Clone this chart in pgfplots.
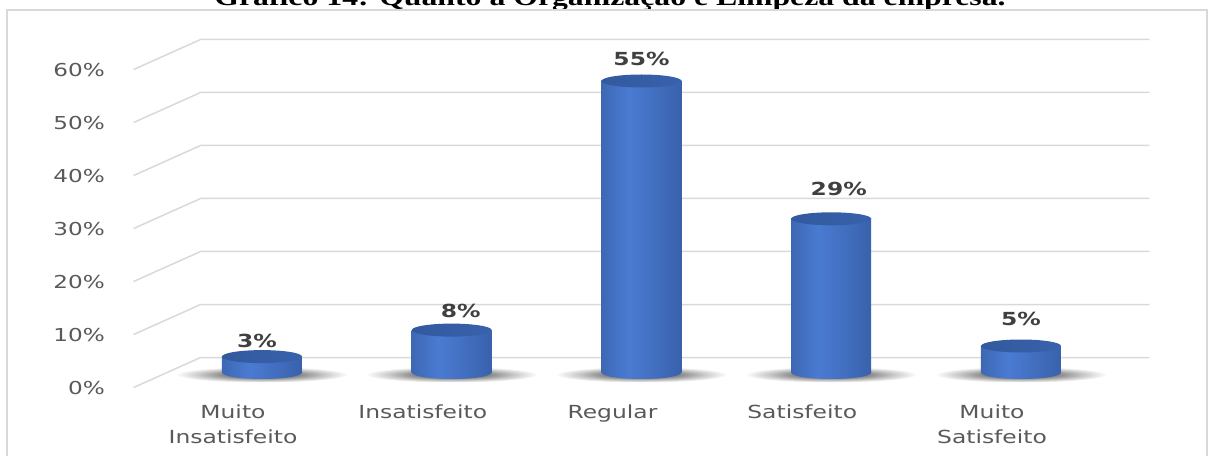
\documentclass[border=0pt]{standalone}
\usepackage{fontspec}
\usepackage{pgfplots}
\usepackage{pgfplotstable}
\pgfplotsset{compat=1.18}
\newfontfamily\chartfont[FakeStretch=1.3]{DejaVu Sans}
\newfontfamily\titlefont[FakeStretch=1.28]{Liberation Serif}
\definecolor{gridc}{HTML}{D9D9D9}
\definecolor{tickc}{HTML}{595959}
\definecolor{valc}{HTML}{404040}
\definecolor{barL}{HTML}{2A4B87}
\definecolor{barM}{HTML}{4A7BD2}
\definecolor{barR}{HTML}{2C4E8E}
\definecolor{topL}{HTML}{2F5597}
\definecolor{topR}{HTML}{3B66B3}

\pgfdeclarehorizontalshading{cylbody}{100bp}{color(0bp)=(barL); color(42bp)=(barM); color(100bp)=(barR)}
\pgfdeclarehorizontalshading{cyltopsh}{100bp}{color(0bp)=(topL); color(100bp)=(topR)}
\pgfdeclareradialshading{shadowsh}{\pgfpointorigin}{color(0bp)=(black!65); color(10bp)=(black!50); color(18bp)=(black!22); color(25bp)=(white); color(50bp)=(white)}

\pgfdeclareplotmark{cyl}{%
 \pgfpathellipse{\pgfpoint{0pt}{-\hpt pt - 2pt}}{\pgfpoint{86pt}{0pt}}{\pgfpoint{0pt}{8pt}}%
 \pgfshadepath{shadowsh}{0}\pgfusepath{discard}%
 \pgfpathellipse{\pgfpoint{0pt}{-\hpt pt}}{\pgfpoint{40pt}{0pt}}{\pgfpoint{0pt}{6.5pt}}%
 \pgfshadepath{cylbody}{0}\pgfusepath{discard}%
 \pgfpathrectangle{\pgfpoint{-40pt}{-\hpt pt}}{\pgfpoint{80pt}{\hpt pt}}%
 \pgfshadepath{cylbody}{0}\pgfusepath{discard}%
 \pgfpathellipse{\pgfpointorigin}{\pgfpoint{40pt}{0pt}}{\pgfpoint{0pt}{6.5pt}}%
 \pgfshadepath{cyltopsh}{0}\pgfusepath{discard}%
}

\pgfplotstableread{
x y dx dy
0 3 -5 16
1 8 9 19
2 55 0 22
3 29 7.5 30
4 5 0 27.5
}\datatable

\begin{document}
\begin{tikzpicture}
\useasboundingbox (0pt,0pt) rectangle (1214pt,455pt);
\clip (0pt,0pt) rectangle (1214pt,455pt);
\node[anchor=base, font={\titlefont\bfseries\fontsize{24.8}{28}\selectfont}] at (610pt,449pt) {Gráfico 14: Quanto à Organização e Limpeza da empresa.};
\draw[gridc, line width=2pt] (6.5pt,-20pt) rectangle (1207pt,444.5pt);
\begin{axis}[
 at={(167.1pt,82.5pt)}, anchor=south west,
 scale only axis, width=948.75pt, height=344.5pt,
 xmin=-0.5, xmax=4.5, ymin=0, ymax=65, enlargelimits=false,
 clip=false,
 axis line style={draw=none},
 major tick length=0pt, tick style={draw=none},
 xtick={0,...,4},
 xticklabels={{Muito\\Insatisfeito},Insatisfeito,Regular,Satisfeito,{Muito\\Satisfeito}},
 xticklabel style={font=\chartfont\fontsize{18}{25}\selectfont, text=tickc, align=center, anchor=north, inner sep=0pt, xshift=-29pt, yshift=-32pt},
 ytick={0,10,...,60},
 yticklabel={\pgfmathprintnumber{\tick}\%},
 /pgf/number format/assume math mode=true,
 /pgf/number format/fixed, /pgf/number format/precision=0,
 yticklabel style={font=\chartfont\fontsize{17.8}{20}\selectfont, text=tickc, anchor=east, inner sep=0pt, xshift=-62pt, yshift=-16pt},
]
\pgfplotsinvokeforeach{0,10,...,60}{
 \draw[gridc, line width=1.5pt] ([shift={(-33.5pt,-15pt)}]axis cs:-0.5,#1) -- ([shift={(33.5pt,15pt)}]axis cs:-0.5,#1) -- ([shift={(33.5pt,15pt)}]axis cs:4.5,#1);
}
\addplot[only marks, mark=cyl,
  visualization depends on={5.3*\thisrow{y} \as \hpt},
  visualization depends on={\thisrow{dx} \as \ldx},
  visualization depends on={\thisrow{dy} \as \ldy},
  nodes near coords={\pgfmathprintnumber{\pgfplotspointmeta}\%},
  nodes near coords style={font=\chartfont\bfseries\fontsize{18}{20}\selectfont, text=valc, anchor=center, xshift=\ldx pt, yshift=\ldy pt},
] table[x=x,y=y]{\datatable};
\end{axis}
\end{tikzpicture}
\end{document}
